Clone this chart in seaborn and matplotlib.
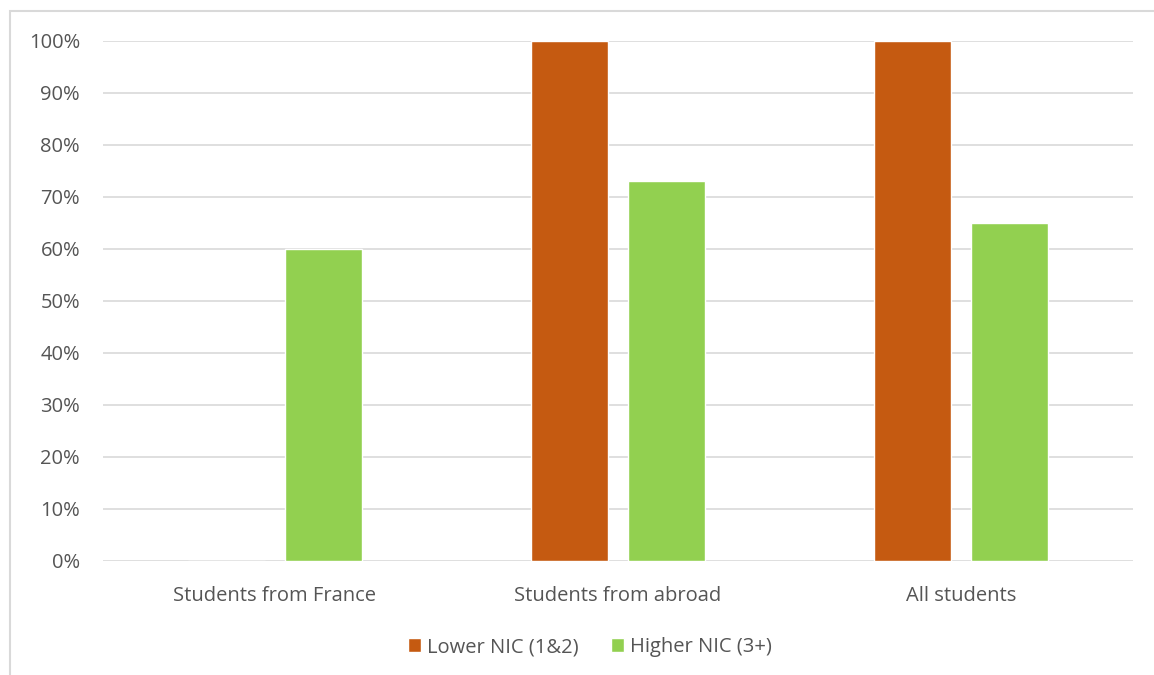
import numpy as np
import pandas as pd
import seaborn as sns
import matplotlib.pyplot as plt
from matplotlib.patches import Rectangle
from matplotlib.ticker import PercentFormatter

# Data
categories = ['Students from France', 'Students from abroad', 'All students']
series = ['Lower NIC (1&2)', 'Higher NIC (3+)']
lower_nic = [0, 100, 100]
higher_nic = [60, 73, 65]
colors = ['#C55A11', '#92D050']

df = pd.DataFrame({
    'category': categories * 2,
    'group': [series[0]] * 3 + [series[1]] * 3,
    'value': lower_nic + higher_nic,
})

sns.set_style('white')
plt.rcParams['font.family'] = ['Open Sans', 'DejaVu Sans']
text_color = '#555555'

fig = plt.figure(figsize=(11.54, 6.75), dpi=100)
ax = fig.add_axes([103 / 1154, 1 - 561 / 675, 1030 / 1154, 520 / 675])

sns.barplot(data=df, x='category', y='value', hue='group', order=categories,
            hue_order=series, palette=colors, width=0.565, gap=0.206,
            saturation=1, ax=ax, legend=True)

ax.set_xlim(-0.5, 2.5)
ax.set_ylim(0, 100)
ax.set_yticks(np.arange(0, 101, 10))
ax.yaxis.set_major_formatter(PercentFormatter(decimals=0))
ax.grid(axis='y', color='#D9D9D9', linewidth=1.2)
ax.set_axisbelow(True)
for s in ax.spines.values():
    s.set_visible(False)
ax.set_xlabel('')
ax.set_ylabel('')
ax.tick_params(axis='both', length=0, labelsize=14.5, colors=text_color)
ax.tick_params(axis='y', pad=16.5)
ax.tick_params(axis='x', pad=18)

leg = ax.legend(loc='center', bbox_to_anchor=((590 - 103) / 1030, (561 - 647) / 520),
                ncol=2, frameon=False, fontsize=14.5, handlelength=0.65,
                handleheight=0.65, handletextpad=0.3, columnspacing=1.6)
for t in leg.get_texts():
    t.set_color(text_color)

# outer chart border
fig.patches.append(Rectangle((10 / 1154, -0.1), 1.2, 1 - 11 / 675 + 0.1,
                             transform=fig.transFigure, fill=False,
                             edgecolor='#D9D9D9', linewidth=1.5))

fig.savefig('out.png', dpi=100)
